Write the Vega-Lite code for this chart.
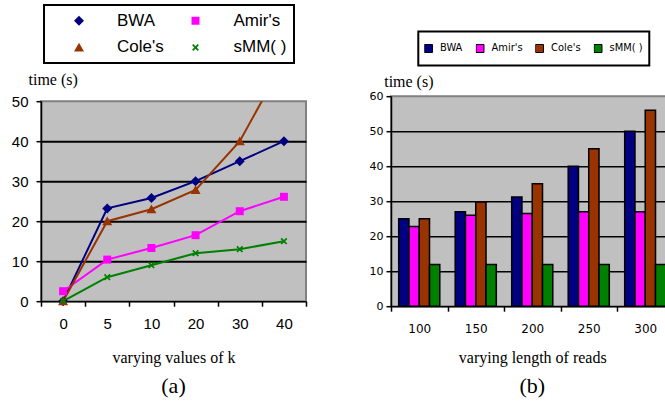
{
  "$schema": "https://vega.github.io/schema/vega-lite/v6.json",
  "background": "white",
  "padding": {"left": 10, "top": 2.2, "right": 0, "bottom": 0},
  "bounds": "flush",
  "center": true,
  "spacing": 85,
  "config": {
    "view": {"stroke": null},
    "legend": {"strokeWidth": 2}
  },
  "resolve": {"legend": {"color": "independent", "shape": "independent"}},
  "datasets": {
    "lines": [
      {"k": "0", "series": "BWA", "time": 0},
      {"k": "5", "series": "BWA", "time": 23.2},
      {"k": "10", "series": "BWA", "time": 25.8},
      {"k": "20", "series": "BWA", "time": 30},
      {"k": "30", "series": "BWA", "time": 35},
      {"k": "40", "series": "BWA", "time": 40},
      {"k": "0", "series": "Amir's", "time": 2.5},
      {"k": "5", "series": "Amir's", "time": 10.4},
      {"k": "10", "series": "Amir's", "time": 13.3},
      {"k": "20", "series": "Amir's", "time": 16.5},
      {"k": "30", "series": "Amir's", "time": 22.5},
      {"k": "40", "series": "Amir's", "time": 26.1},
      {"k": "0", "series": "Cole's", "time": 0},
      {"k": "5", "series": "Cole's", "time": 20},
      {"k": "10", "series": "Cole's", "time": 23},
      {"k": "20", "series": "Cole's", "time": 27.8},
      {"k": "30", "series": "Cole's", "time": 40},
      {"k": "40", "series": "Cole's", "time": 60},
      {"k": "0", "series": "sMM( )", "time": 0},
      {"k": "5", "series": "sMM( )", "time": 6},
      {"k": "10", "series": "sMM( )", "time": 9},
      {"k": "20", "series": "sMM( )", "time": 12},
      {"k": "30", "series": "sMM( )", "time": 13},
      {"k": "40", "series": "sMM( )", "time": 15}
    ],
    "bars": [
      {"len": "100", "series": "BWA", "time": 25},
      {"len": "100", "series": "Amir's", "time": 22.8},
      {"len": "100", "series": "Cole's", "time": 25},
      {"len": "100", "series": "sMM( )", "time": 11.9},
      {"len": "150", "series": "BWA", "time": 27},
      {"len": "150", "series": "Amir's", "time": 26},
      {"len": "150", "series": "Cole's", "time": 29.8},
      {"len": "150", "series": "sMM( )", "time": 11.9},
      {"len": "200", "series": "BWA", "time": 31.2},
      {"len": "200", "series": "Amir's", "time": 26.5},
      {"len": "200", "series": "Cole's", "time": 35},
      {"len": "200", "series": "sMM( )", "time": 11.9},
      {"len": "250", "series": "BWA", "time": 40},
      {"len": "250", "series": "Amir's", "time": 27},
      {"len": "250", "series": "Cole's", "time": 45},
      {"len": "250", "series": "sMM( )", "time": 11.9},
      {"len": "300", "series": "BWA", "time": 50},
      {"len": "300", "series": "Amir's", "time": 27},
      {"len": "300", "series": "Cole's", "time": 56},
      {"len": "300", "series": "sMM( )", "time": 11.9}
    ]
  },
  "hconcat": [
    {
      "width": 265,
      "height": 200,
      "view": {"fill": "#C0C0C0", "stroke": "#808080", "strokeWidth": 2},
      "title": {"text": "(a)", "orient": "bottom", "anchor": "middle", "font": "Liberation Serif", "fontSize": 22, "fontWeight": "normal", "color": "black", "offset": 11},
      "data": {"name": "lines"},
      "encoding": {
        "x": {
          "field": "k", "type": "ordinal", "sort": ["0", "5", "10", "20", "30", "40"], "bandPosition": 0.5,
          "scale": {"type": "band", "paddingInner": 0, "paddingOuter": 0},
          "axis": {
            "title": "varying values of k", "titleFont": "Liberation Serif", "titleFontSize": 16, "titleFontWeight": "normal", "titleColor": "black", "titleBaseline": "alphabetic", "titleY": 61,
            "labelAngle": 0, "labelFont": "Liberation Sans", "labelFontSize": 15, "labelColor": "black", "labelPadding": 10,
            "tickBand": "extent", "tickSize": 5, "tickWidth": 1.5, "tickColor": "black",
            "domainColor": "black", "domainWidth": 1.5, "grid": false
          }
        },
        "y": {
          "field": "time", "type": "quantitative",
          "scale": {"domain": [0, 50], "nice": false},
          "axis": {
            "values": [0, 10, 20, 30, 40, 50], "labelOverlap": false,
            "title": "time (s)", "titleAngle": 0, "titleAlign": "left", "titleBaseline": "middle", "titleX": -13, "titleY": -21.7,
            "titleFont": "Liberation Serif", "titleFontSize": 16, "titleFontWeight": "normal", "titleColor": "black",
            "labelFont": "Liberation Sans", "labelFontSize": 15, "labelColor": "black", "labelPadding": 8,
            "tickSize": 5, "tickWidth": 1.5, "tickColor": "black", "domainColor": "black", "domainWidth": 1.5,
            "grid": true, "gridColor": "black", "gridWidth": 2,
            "gridOpacity": {"condition": {"test": "datum.value === 0 || datum.value === 50", "value": 0}, "value": 1}
          }
        }
      },
      "layer": [
        {
          "mark": {"type": "line", "strokeWidth": 2, "clip": true},
          "encoding": {
            "stroke": {
              "field": "series", "type": "nominal",
              "scale": {"domain": ["BWA", "Amir's", "Cole's", "sMM( )"], "range": ["#000080", "#FF00FF", "#993300", "#008000"]},
              "legend": null
            }
          }
        },
        {
          "transform": [{"filter": "datum.time <= 50"}],
          "mark": {"type": "point", "filled": true, "opacity": 1, "size": 64},
          "encoding": {
            "color": {
              "field": "series", "type": "nominal",
              "scale": {"domain": ["BWA", "Amir's", "Cole's", "sMM( )"], "range": ["#000080", "#FF00FF", "#993300", "#008000"]},
              "legend": {
                "orient": "none", "legendX": 3, "legendY": -96.2, "direction": "horizontal", "columns": 2, "title": null,
                "padding": 7, "fillColor": "white", "strokeColor": "black",
                "labelFont": "Liberation Sans", "labelFontSize": 17, "labelColor": "black",
                "symbolSize": 64, "symbolStrokeWidth": 0, "symbolOffset": 19.5, "labelOffset": 29.5,
                "columnPadding": 3.5, "rowPadding": 9, "symbolOpacity": 1
              }
            },
            "shape": {
              "field": "series", "type": "nominal",
              "scale": {
                "domain": ["BWA", "Amir's", "Cole's", "sMM( )"],
                "range": [
                  "M0,-1.25L1.25,0L0,1.25L-1.25,0Z",
                  "M-1,-1H1V1H-1Z",
                  "M0,-1.2L1.25,1H-1.25Z",
                  "M-0.85,-0.55L-0.55,-0.85L0,-0.3L0.55,-0.85L0.85,-0.55L0.3,0L0.85,0.55L0.55,0.85L0,0.3L-0.55,0.85L-0.85,0.55L-0.3,0Z"
                ]
              },
              "legend": {
                "orient": "none", "legendX": 3, "legendY": -96.2, "direction": "horizontal", "columns": 2, "title": null,
                "padding": 7, "fillColor": "white", "strokeColor": "black",
                "labelFont": "Liberation Sans", "labelFontSize": 17, "labelColor": "black",
                "symbolSize": 64, "symbolStrokeWidth": 0, "symbolOffset": 19.5, "labelOffset": 29.5,
                "columnPadding": 3.5, "rowPadding": 9, "symbolOpacity": 1
              }
            }
          }
        }
      ]
    },
    {
      "width": 282.5,
      "height": 210,
      "view": {"fill": "#C0C0C0", "stroke": "#808080", "strokeWidth": 2},
      "title": {"text": "(b)", "orient": "bottom", "anchor": "middle", "font": "Liberation Serif", "fontSize": 22, "fontWeight": "normal", "color": "black", "offset": 11},
      "data": {"name": "bars"},
      "mark": {"type": "bar", "stroke": "black", "strokeWidth": 1.5},
      "encoding": {
        "x": {
          "field": "len", "type": "ordinal", "sort": ["100", "150", "200", "250", "300"],
          "scale": {"paddingInner": 0, "paddingOuter": 0},
          "axis": {
            "title": "varying length of reads", "titleFont": "Liberation Serif", "titleFontSize": 16, "titleFontWeight": "normal", "titleColor": "black", "titleBaseline": "alphabetic", "titleY": 56,
            "labelAngle": 0, "labelFont": "DejaVu Sans", "labelFontSize": 12, "labelColor": "black", "labelPadding": 12,
            "tickBand": "extent", "tickSize": 5, "tickWidth": 1.5, "tickColor": "black",
            "domainColor": "black", "domainWidth": 1.5, "grid": false
          }
        },
        "xOffset": {
          "field": "series", "type": "nominal", "sort": ["BWA", "Amir's", "Cole's", "sMM( )"],
          "scale": {"paddingInner": 0, "paddingOuter": 0.75}
        },
        "y": {
          "field": "time", "type": "quantitative",
          "scale": {"domain": [0, 60], "nice": false},
          "axis": {
            "values": [0, 10, 20, 30, 40, 50, 60], "labelOverlap": false,
            "title": "time (s)", "titleAngle": 0, "titleAlign": "left", "titleBaseline": "middle", "titleX": -7.3, "titleY": -14.7,
            "titleFont": "Liberation Serif", "titleFontSize": 16, "titleFontWeight": "normal", "titleColor": "black",
            "labelFont": "DejaVu Sans", "labelFontSize": 11, "labelColor": "black", "labelPadding": 3,
            "tickSize": 5, "tickWidth": 1.5, "tickColor": "black", "domainColor": "black", "domainWidth": 1.5,
            "grid": true, "gridColor": "black", "gridWidth": 1.5,
            "gridOpacity": {"condition": {"test": "datum.value === 0 || datum.value === 60", "value": 0}, "value": 1}
          }
        },
        "color": {
          "field": "series", "type": "nominal",
          "scale": {"domain": ["BWA", "Amir's", "Cole's", "sMM( )"], "range": ["#000080", "#FF00FF", "#993300", "#008000"]},
          "legend": {
            "orient": "none", "legendX": 27.3, "legendY": -64.7, "direction": "horizontal", "columns": 4, "title": null,
            "padding": 6, "clipHeight": 22, "fillColor": "white", "strokeColor": "black",
            "symbolType": "square", "symbolSize": 64, "symbolStrokeColor": "black", "symbolStrokeWidth": 1,
            "symbolOffset": -1.3, "labelOffset": 6, "columnPadding": 12.5, "symbolOpacity": 1,
            "labelFont": "DejaVu Sans Condensed, DejaVu Sans", "labelFontSize": 11, "labelColor": "black"
          }
        }
      }
    }
  ]
}
